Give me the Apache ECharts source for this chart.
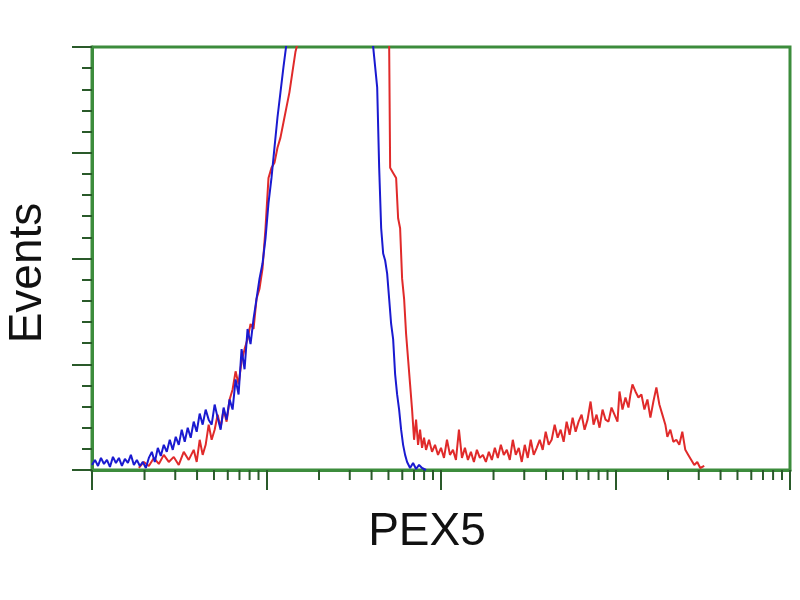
<!DOCTYPE html>
<html><head><meta charset="utf-8">
<script src="https://cdn.jsdelivr.net/npm/echarts@6/dist/echarts.min.js"></script>
<style>html,body{margin:0;padding:0;background:#fff}#c{width:800px;height:600px}</style>
</head><body><div id="c"></div>
<script>
// x: log channel (175 channels per decade, 4 decades); y: events
const xDecades = [0, 175, 350, 525, 700];
const yTicks = [0, 105, 210, 315, 420];
const xTitle = 'PEX5';
const yTitle = 'Events';

const blueSeries = [[0,5],[3,10],[6,4],[9,12],[12,6],[15,10],[18,3],[21,13],[24,7],[27,12],[30,4],[33,11],[36,7],[39,15],[42,5],[45,10],[48,4],[51,8],[54,2],[57,12],[60,18],[63,8],[66,22],[69,14],[72,25],[75,18],[78,30],[81,20],[84,33],[87,25],[90,40],[93,28],[96,42],[99,32],[102,48],[105,38],[108,56],[111,45],[114,60],[117,50],[120,45],[123,65],[126,52],[129,40],[132,62],[135,50],[138,70],[141,60],[144,90],[147,75],[150,120],[153,100],[156,140],[159,125],[162,150],[165,170],[168,190],[171,205],[174,230],[177,265],[180,290],[183,320],[186,350],[189,375],[192,400],[195,423],[197,450],[200,520],[210,600],[270,600],[279,450],[283,410],[286,380],[288,300],[290,240],[292,215],[294,208],[296,195],[298,170],[300,145],[302,130],[304,95],[306,75],[308,60],[310,40],[312,25],[314,15],[316,8],[319,2],[322,7],[325,1],[328,5],[331,2],[335,0]];

const redSeries = [[47,2],[52,8],[57,4],[62,12],[67,6],[72,15],[77,8],[82,13],[87,5],[92,18],[97,10],[102,20],[105,8],[108,30],[111,15],[114,25],[117,45],[120,30],[123,40],[126,55],[129,42],[132,60],[135,48],[138,70],[141,80],[144,98],[147,85],[150,108],[153,120],[156,130],[159,145],[162,140],[165,170],[168,180],[171,200],[174,240],[177,290],[180,300],[183,305],[186,320],[189,330],[192,345],[195,360],[198,375],[201,395],[204,415],[206,423],[207,450],[215,600],[285,600],[297,450],[298,423],[299,300],[302,295],[305,290],[307,250],[309,240],[311,190],[313,170],[315,135],[317,110],[319,85],[321,60],[323,30],[325,50],[327,25],[329,40],[331,22],[333,32],[335,20],[338,30],[341,18],[344,25],[347,15],[350,22],[353,12],[356,30],[359,15],[362,20],[365,10],[368,40],[371,12],[374,22],[377,10],[380,18],[383,8],[386,20],[389,12],[392,15],[395,8],[398,18],[401,10],[404,22],[407,12],[410,25],[413,15],[416,20],[419,10],[422,30],[425,15],[428,22],[431,8],[434,25],[437,12],[440,30],[443,15],[446,22],[449,30],[452,20],[455,38],[458,25],[461,30],[464,45],[467,32],[470,40],[473,28],[476,48],[479,35],[482,52],[485,38],[488,48],[491,55],[494,40],[497,50],[500,68],[503,45],[506,55],[509,42],[512,60],[515,50],[518,48],[521,62],[524,55],[527,48],[529,78],[532,60],[535,72],[538,62],[540,75],[542,85],[545,78],[548,72],[551,75],[554,60],[557,70],[560,52],[563,68],[566,82],[569,65],[572,55],[575,45],[577,33],[580,40],[583,28],[586,30],[589,25],[592,38],[595,20],[598,15],[601,10],[604,5],[607,8],[610,2],[614,4]];

// minor log ticks (2..9 within each decade)
const minorX = [];
for (let d = 0; d < 4; d++) for (let k = 2; k <= 9; k++) minorX.push([xDecades[d] + 175 * Math.log10(k), 0]);

const GREEN = '#3c8c3c';
const TICK = '#2a5a2a';
const chart = echarts.init(document.getElementById('c'));
chart.setOption({
  animation: false,
  backgroundColor: '#fff',
  grid: { left: 92, right: 10, top: 47, bottom: 130, show: true, borderColor: GREEN, borderWidth: 3, backgroundColor: '#fff' },
  xAxis: {
    type: 'value', min: xDecades[0], max: xDecades[xDecades.length - 1], interval: 175,
    axisLine: { show: true, lineStyle: { color: GREEN, width: 3 } },
    axisTick: { show: true, length: 20, lineStyle: { color: TICK, width: 2 } },
    axisLabel: { show: false }, splitLine: { show: false }
  },
  yAxis: {
    type: 'value', min: yTicks[0], max: yTicks[yTicks.length - 1], interval: 105,
    axisLine: { show: true, lineStyle: { color: GREEN, width: 3 } },
    axisTick: { show: true, length: 20, lineStyle: { color: TICK, width: 2 } },
    minorTick: { show: true, splitNumber: 5, length: 10, lineStyle: { color: TICK, width: 2 } },
    axisLabel: { show: false }, splitLine: { show: false }
  },
  graphic: [
    { type: 'text', x: 427, y: 532, style: { text: xTitle, font: '46px "Liberation Sans", Arial, sans-serif', fill: '#111', align: 'center', verticalAlign: 'middle' } },
    { type: 'text', x: 28, y: 273, rotation: Math.PI / 2, style: { text: yTitle, font: '46px "Liberation Sans", Arial, sans-serif', fill: '#111', align: 'center', verticalAlign: 'middle' } }
  ],
  series: [
    { type: 'custom', data: minorX, clip: false, silent: true, z: 3,
      renderItem: function (params, api) {
        const p = api.coord([api.value(0), 0]);
        return { type: 'line', shape: { x1: p[0], y1: p[1], x2: p[0], y2: p[1] + 10 }, style: { stroke: TICK, lineWidth: 2 } };
      } },
    { type: 'line', data: redSeries, showSymbol: false, clip: true, lineStyle: { color: '#e02a2a', width: 2 }, z: 4 },
    { type: 'line', data: blueSeries, showSymbol: false, clip: true, lineStyle: { color: '#1a1ad0', width: 2 }, z: 5 }
  ]
});
</script></body></html>
